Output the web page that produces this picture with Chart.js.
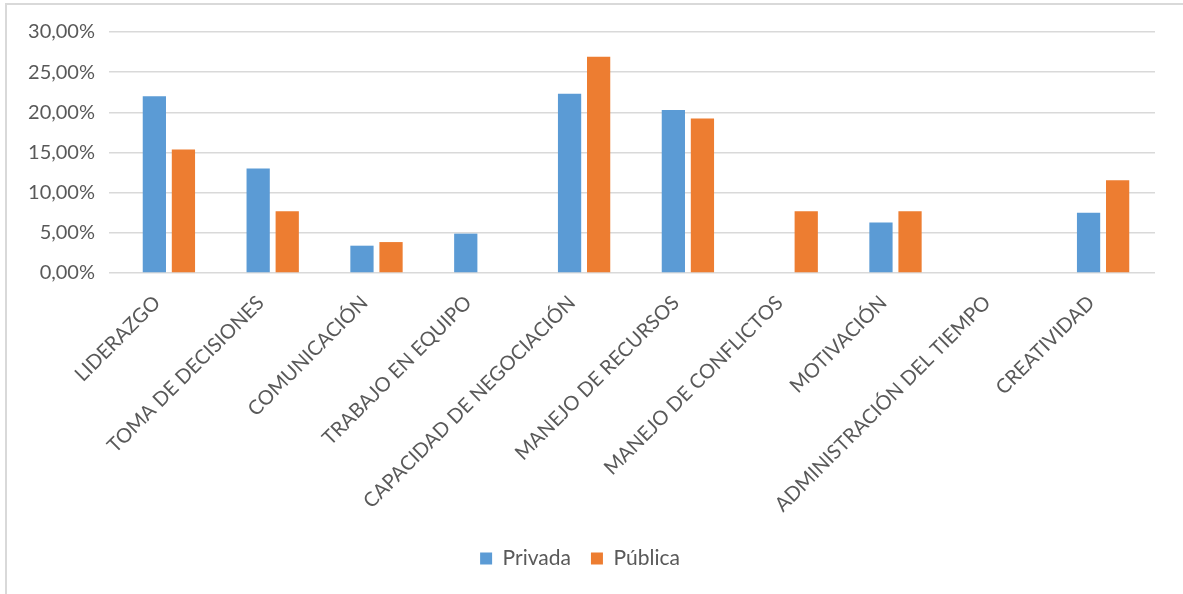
<!DOCTYPE html>
<html>
<head>
<meta charset="utf-8">
<script src="https://cdn.jsdelivr.net/npm/chart.js@4/dist/chart.umd.min.js"></script>
<style>
  html, body { margin: 0; padding: 0; background: #fff; }
  #wrap { position: relative; width: 1183px; height: 594px; overflow: hidden; }
  #frame { position: absolute; left: 5px; top: 3px; width: 1200px; height: 620px;
           border: 2px solid #d9d9d9; box-sizing: border-box; }
  canvas { position: absolute; left: 0; top: 0; }
</style>
</head>
<body>
<div id="wrap">
  <div id="frame"></div>
  <canvas id="myChart" width="1183" height="594"></canvas>
</div>
<script>
// competencias evaluadas
var categorias = ['LIDERAZGO', 'TOMA DE DECISIONES', 'COMUNICACIÓN', 'TRABAJO EN EQUIPO',
  'CAPACIDAD DE NEGOCIACIÓN', 'MANEJO DE RECURSOS', 'MANEJO DE CONFLICTOS',
  'MOTIVACIÓN', 'ADMINISTRACIÓN DEL TIEMPO', 'CREATIVIDAD'];

// porcentajes por sector
var privada = [22.0, 13.0, 3.4, 4.9, 22.3, 20.3, 0, 6.3, 0, 7.5];
var publica = [15.38, 7.69, 3.85, 0, 26.92, 19.23, 7.69, 7.69, 0, 11.54];

var ejeY = { min: 0, max: 30, paso: 5 };

function formatoPct(v) {
  return v.toFixed(2).replace('.', ',') + '%';
}

var gris = '#595959';
var fuente = 'Lato, "Open Sans", sans-serif';

var ctx = document.getElementById('myChart').getContext('2d');
var myChart = new Chart(ctx, {
  type: 'bar',
  data: {
    labels: categorias,
    datasets: [{
      label: 'Privada',
      data: privada,
      backgroundColor: '#5b9bd5',
      barPercentage: 0.8,
      categoryPercentage: 0.56
    }, {
      label: 'Pública',
      data: publica,
      backgroundColor: '#ed7d31',
      barPercentage: 0.8,
      categoryPercentage: 0.56
    }]
  },
  options: {
    responsive: false,
    animation: false,
    layout: { padding: { left: 5, right: 28, top: 32, bottom: 15 } },
    plugins: {
      tooltip: { enabled: false },
      legend: {
        position: 'bottom',
        labels: {
          color: gris,
          boxWidth: 12,
          boxHeight: 12,
          padding: 20,
          font: { family: fuente, size: 21 }
        }
      }
    },
    scales: {
      x: {
        afterFit: function(scale) { scale.height = 255; },
        grid: { display: false },
        border: { display: false },
        ticks: {
          color: gris,
          minRotation: 45,
          maxRotation: 45,
          autoSkip: false,
          padding: 10,
          labelOffset: -12,
          font: { family: fuente, size: 20 }
        }
      },
      y: {
        min: ejeY.min,
        max: ejeY.max,
        afterFit: function(scale) { scale.width = 112; },
        grid: { color: '#d9d9d9', lineWidth: 1.5 },
        border: { display: false },
        ticks: {
          stepSize: ejeY.paso,
          color: gris,
          padding: 14,
          font: { family: fuente, size: 20 },
          callback: function(v) { return formatoPct(v); }
        }
      }
    }
  }
});
</script>
</body>
</html>
